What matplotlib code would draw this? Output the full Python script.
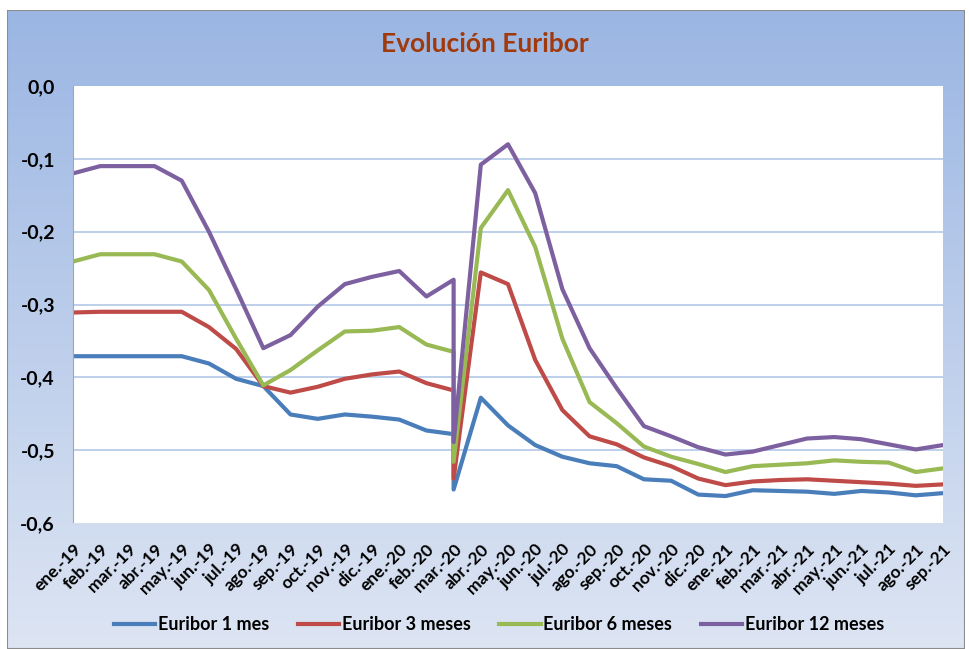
"""
    evolucion_euribor.py
    Euribor 1, 3, 6 y 12 meses, ene-19 a sep-21
"""

import numpy as np
import matplotlib.pyplot as plt
from matplotlib.lines import Line2D
from matplotlib.patches import Rectangle

plt.rcParams["font.family"] = ["Lato", "DejaVu Sans"]
plt.rcParams["font.weight"] = "bold"

months = [
    "ene.-19", "feb.-19", "mar.-19", "abr.-19", "may.-19", "jun.-19",
    "jul.-19", "ago.-19", "sep.-19", "oct.-19", "nov.-19", "dic.-19",
    "ene.-20", "feb.-20", "mar.-20", "abr.-20", "may.-20", "jun.-20",
    "jul.-20", "ago.-20", "sep.-20", "oct.-20", "nov.-20", "dic.-20",
    "ene.-21", "feb.-21", "mar.-21", "abr.-21", "may.-21", "jun.-21",
    "jul.-21", "ago.-21", "sep.-21",
]

# mar.-20 has two readings (before / after the drop)
euribor_1m = [
    -0.371, -0.371, -0.371, -0.371, -0.371, -0.381, -0.402, -0.412, -0.451,
    -0.457, -0.451, -0.454, -0.458, -0.473, -0.478, -0.554, -0.428, -0.466,
    -0.493, -0.509, -0.518, -0.522, -0.540, -0.542, -0.561, -0.563, -0.555,
    -0.556, -0.557, -0.560, -0.556, -0.558, -0.562, -0.559,
]
euribor_3m = [
    -0.311, -0.310, -0.310, -0.310, -0.310, -0.331, -0.361, -0.412, -0.421,
    -0.413, -0.402, -0.396, -0.392, -0.408, -0.418, -0.539, -0.256, -0.272,
    -0.376, -0.445, -0.481, -0.492, -0.510, -0.522, -0.539, -0.548, -0.543,
    -0.541, -0.540, -0.542, -0.544, -0.546, -0.549, -0.547,
]
euribor_6m = [
    -0.241, -0.231, -0.231, -0.231, -0.241, -0.280, -0.347, -0.411, -0.390,
    -0.363, -0.337, -0.336, -0.331, -0.355, -0.365, -0.516, -0.195, -0.143,
    -0.221, -0.347, -0.434, -0.463, -0.495, -0.509, -0.519, -0.530, -0.522,
    -0.520, -0.518, -0.514, -0.516, -0.517, -0.530, -0.525,
]
euribor_12m = [
    -0.120, -0.110, -0.110, -0.110, -0.130, -0.200, -0.279, -0.360, -0.342,
    -0.303, -0.272, -0.262, -0.254, -0.289, -0.266, -0.489, -0.108, -0.080,
    -0.147, -0.279, -0.360, -0.415, -0.467, -0.481, -0.496, -0.506, -0.502,
    -0.493, -0.484, -0.482, -0.485, -0.492, -0.499, -0.493,
]

series = [
    ("Euribor 1 mes", euribor_1m, "#4A7EBB"),
    ("Euribor 3 meses", euribor_3m, "#BE4B48"),
    ("Euribor 6 meses", euribor_6m, "#98B954"),
    ("Euribor 12 meses", euribor_12m, "#7D60A0"),
]

W, H = 969, 649
fig = plt.figure(figsize=(W / 100, H / 100), dpi=100)
fig.patch.set_facecolor("white")

# gradient background of the chart area
ax_bg = fig.add_axes([7 / W, 0, (965 - 7) / W, (H - 10) / H])
top = np.array([155, 182, 227]) / 255
bottom = np.array([221, 229, 243]) / 255
t = np.linspace(0, 1, 256)[:, None]
grad = top[None, :] * (1 - t) + bottom[None, :] * t
ax_bg.imshow(grad[:, None, :], aspect="auto", extent=[0, 1, 0, 1])
ax_bg.add_patch(Rectangle((0, 0), 1, 1, transform=ax_bg.transAxes,
                          fill=False, edgecolor="#8C8C8C", linewidth=1.5))
ax_bg.set_axis_off()

ax = fig.add_axes([73 / W, 1 - 523 / H, 870 / W, 437 / H])
ax.set_facecolor("white")

x = list(range(15)) + list(range(14, len(months)))
for label, values, color in series:
    ax.plot(x, values, color=color, linewidth=3, label=label,
            solid_joinstyle="round", solid_capstyle="round")

ax.set_xlim(0, len(months) - 1)
ax.set_ylim(-0.6, 0)
yt = np.round(np.arange(-0.6, 0.01, 0.1), 1)
ax.set_yticks(yt)
ax.set_yticklabels([f"{v:.1f}".replace(".", ",").replace("-0,0", "0,0") for v in yt])
ax.set_xticks(range(len(months)))
ax.set_xticklabels(months, rotation=45, ha="right", rotation_mode="anchor")
ax.tick_params(axis="y", length=0, pad=13, labelsize=14)
ax.tick_params(axis="x", length=0, pad=13, labelsize=12.5)

for v in yt[1:-1]:
    ax.axhline(v, color="#B9CDE8", linewidth=1.3, zorder=0)

ax.spines["top"].set_visible(False)
ax.spines["right"].set_visible(False)
ax.spines["left"].set_color("#A6A6A6")
ax.spines["bottom"].set_color("#D3DCEB")

fig.text(0.5, 1 - 44 / H, "Evolución Euribor", ha="center", va="center",
         fontsize=19, fontweight="bold", color="#A0390C")

handles = [Line2D([], [], color=c, linewidth=3) for _, _, c in series]
fig.legend(handles, [s[0] for s in series], loc="center", ncol=4,
           bbox_to_anchor=(499 / W, 1 - 625 / H), frameon=False, fontsize=13,
           handlelength=2.3, handletextpad=0.15, columnspacing=1.57)

plt.savefig("out.png", dpi=100)
